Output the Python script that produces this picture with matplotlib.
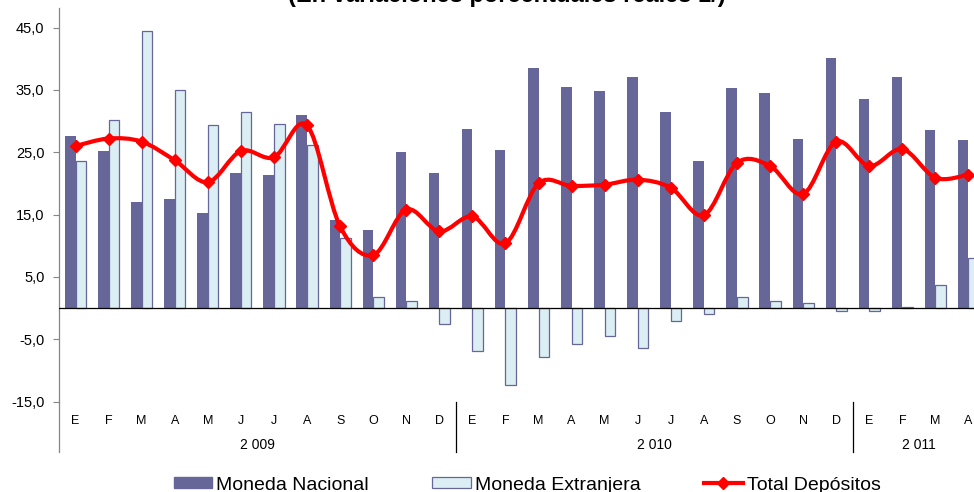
import matplotlib.pyplot as plt
import matplotlib.transforms as mtransforms
import numpy as np
from matplotlib.path import Path
from matplotlib.patches import PathPatch, Patch
from matplotlib.lines import Line2D

plt.rcParams['font.family'] = ['Liberation Sans', 'DejaVu Sans']

# Datos (variaciones porcentuales reales)
meses = ['E', 'F', 'M', 'A', 'M', 'J', 'J', 'A', 'S', 'O', 'N', 'D'] * 2 + ['E', 'F', 'M', 'A']
anios = ['2 009', '2 010', '2 011']
meses_por_anio = [12, 12, 4]

moneda_nacional = [27.6, 25.2, 17.0, 17.5, 15.3, 21.6, 21.3, 31.0, 14.2, 12.6, 25.0, 21.6,
                   28.7, 25.3, 38.5, 35.5, 34.9, 37.1, 31.5, 23.6, 35.3, 34.5, 27.2, 40.1,
                   33.6, 37.1, 28.5, 27.0]
moneda_extranjera = [23.6, 30.2, 44.4, 35.0, 29.3, 31.5, 29.6, 26.1, 11.3, 1.8, 1.2, -2.6,
                     -6.9, -12.4, -7.9, -5.8, -4.5, -6.4, -2.0, -1.0, 1.8, 1.2, 0.75, -0.4,
                     -0.4, 0.25, 3.7, 8.0]
total_depositos = [26.0, 27.2, 26.7, 23.7, 20.2, 25.2, 24.2, 29.3, 13.1, 8.5, 15.8, 12.3,
                   14.7, 10.4, 20.0, 19.6, 19.8, 20.6, 19.3, 14.9, 23.3, 22.8, 18.3, 26.7,
                   22.8, 25.5, 20.9, 21.4]

col_mn = '#666699'
col_me = '#DAEEF3'
col_total = '#FF0000'


def curva_suave(x, y):
    # linea suavizada tipo Excel (Catmull-Rom -> Bezier)
    pts = np.column_stack([x, y]).astype(float)
    n = len(pts)
    verts = [pts[0]]
    codes = [Path.MOVETO]
    for i in range(n - 1):
        p0 = pts[max(i - 1, 0)]
        p1 = pts[i]
        p2 = pts[i + 1]
        p3 = pts[min(i + 2, n - 1)]
        verts += [p1 + (p2 - p0) / 6, p2 - (p3 - p1) / 6, p2]
        codes += [Path.CURVE4] * 3
    return Path(verts, codes)


fig = plt.figure(figsize=(9.74, 4.92), dpi=100)
ax = fig.add_axes([59 / 974, 90.4 / 492, 926 / 974, 394 / 492])

x = np.arange(len(meses))
ancho = 0.32
ax.bar(x - ancho / 2, moneda_nacional, ancho, color=col_mn, zorder=2)
ax.bar(x + ancho / 2, moneda_extranjera, ancho, color=col_me, edgecolor=col_mn,
       linewidth=0.9, zorder=2)
ax.axhline(0, color='black', linewidth=0.9, zorder=3)

ax.add_patch(PathPatch(curva_suave(x, total_depositos), fill=False, edgecolor=col_total,
                       linewidth=3, capstyle='round', joinstyle='round', zorder=4))
ax.plot(x, total_depositos, linestyle='none', marker='D', markersize=6,
        color=col_total, zorder=5)

ax.set_xlim(-0.5, len(meses) - 0.5)
ax.set_ylim(-15, 48.2)
yt = [-15, -5, 5, 15, 25, 35, 45]
ax.set_yticks(yt)
ax.set_yticklabels([('%.1f' % v).replace('.', ',') for v in yt])
ax.tick_params(axis='y', length=4.5, width=0.8, color='#868686', pad=6, labelsize=10.5)
ax.set_xticks(x)
ax.set_xticklabels(meses)
ax.tick_params(axis='x', length=0, pad=10, labelsize=9)

for s in ['top', 'right', 'bottom']:
    ax.spines[s].set_visible(False)
ax.spines['left'].set_color('#868686')
ax.spines['left'].set_linewidth(0.9)

# eje de categorias con dos niveles
trans = mtransforms.blended_transform_factory(ax.transData, ax.transAxes)
y_fin = -(452 - 401.6) / 394
ax.plot([-0.5, -0.5], [0, y_fin], color='#868686', linewidth=0.9, transform=trans, clip_on=False)
inicio = 0
for anio, k in zip(anios, meses_por_anio):
    ax.text(inicio + k / 2 - 0.5, -(445 - 401.6) / 394, anio, transform=trans,
            ha='center', va='center', fontsize=10)
    inicio += k
    if inicio < len(meses):
        ax.plot([inicio - 0.5, inicio - 0.5], [0, y_fin], color='black', linewidth=0.9,
                transform=trans, clip_on=False)

# titulo cortado en la parte superior, como en el original
fig.text(507 / 974, 1 - 2 / 492, '(En variaciones porcentuales reales 1/)', ha='center',
         va='baseline', fontsize=17, fontweight='bold')

handles = [Patch(facecolor=col_mn, edgecolor=col_mn),
           Patch(facecolor=col_me, edgecolor=col_mn, linewidth=0.9),
           Line2D([0], [0], color=col_total, linewidth=3, marker='D', markersize=6)]
fig.legend(handles, ['Moneda Nacional', 'Moneda Extranjera', 'Total Depósitos'],
           loc='center', bbox_to_anchor=(527 / 974, 1 - 485 / 492), ncol=3, frameon=False,
           fontsize=14, handlelength=2.0, handleheight=0.52, handletextpad=0.2,
           columnspacing=3.25, borderpad=0)

fig.savefig('out.png', dpi=100)
